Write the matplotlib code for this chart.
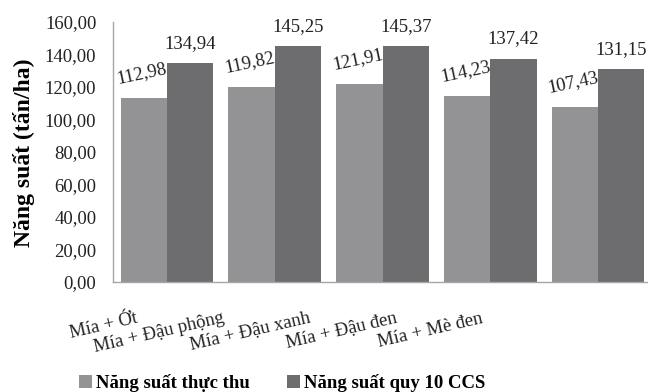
import matplotlib
matplotlib.use("Agg")
import matplotlib.pyplot as plt
import matplotlib.transforms as mtransforms
import numpy as np

# Data
categories = ["Mía + Ớt", "Mía + Đậu phộng", "Mía + Đậu xanh",
              "Mía + Đậu đen", "Mía + Mè đen"]
actualYield = [112.98, 119.82, 121.91, 114.23, 107.43]
ccsYield = [134.94, 145.25, 145.37, 137.42, 131.15]
seriesNames = ["Năng suất thực thu", "Năng suất quy 10 CCS"]
yTicks = [0, 20, 40, 60, 80, 100, 120, 140, 160]

LIGHT = "#939396"
DARK = "#6d6d6f"
AXIS = "#a6a6a6"
TEXT = "#222222"
FS = 13.5


def fmt(v):
    return f"{v:.2f}".replace(".", ",")


def main():
    plt.rcParams["font.family"] = ["Liberation Serif", "DejaVu Serif"]
    fig = plt.figure(figsize=(6.48, 3.92), dpi=100)
    W, H = 648.0, 392.0
    left, right, top, bottom = 113, 652, 22, 282
    ax = fig.add_axes([left / W, 1 - bottom / H,
                       (right - left) / W, (bottom - top) / H])

    x = np.arange(len(categories))
    width = 0.43
    b1 = ax.bar(x - width / 2, actualYield, width, color=LIGHT,
                label=seriesNames[0])
    b2 = ax.bar(x + width / 2, ccsYield, width, color=DARK,
                label=seriesNames[1])

    for rect, v in zip(b1, actualYield):
        ax.annotate(fmt(v), (rect.get_x() + rect.get_width() / 2, v),
                    xytext=(0, 12), textcoords="offset points",
                    ha="center", va="bottom", rotation=12,
                    rotation_mode="anchor", fontsize=FS, color=TEXT)
    for rect, v in zip(b2, ccsYield):
        ax.annotate(fmt(v), (rect.get_x() + rect.get_width() / 2, v),
                    xytext=(0, 8), textcoords="offset points",
                    ha="center", va="bottom", fontsize=FS,
                    color=TEXT, annotation_clip=False)

    ax.set_xlim(-0.5, len(categories) - 0.5)
    ax.set_ylim(0, 160)
    ax.set_yticks(yTicks)
    ax.set_yticklabels([fmt(t) for t in yTicks], fontsize=FS, color=TEXT)
    ax.tick_params(axis="y", length=0, pad=12)
    ax.tick_params(axis="x", length=0, pad=20)

    ax.set_xticks(x)
    ax.set_xticklabels(categories, rotation=13, ha="right",
                       rotation_mode="anchor", fontsize=FS, color=TEXT)
    # labels in the reference sit left of their category centres
    for i, lbl in enumerate(ax.get_xticklabels()):
        shift = -(31 + 21.5 * i) / 100.0
        lbl.set_transform(lbl.get_transform() + mtransforms.ScaledTranslation(
            shift, 0, fig.dpi_scale_trans))

    for side in ("top", "right"):
        ax.spines[side].set_visible(False)
    for side in ("left", "bottom"):
        ax.spines[side].set_color(AXIS)
        ax.spines[side].set_linewidth(1.0)

    fig.text(24 / W, 1 - 153 / H, "Năng suất (tấn/ha)", rotation=90,
             ha="center", va="center", fontsize=17, fontweight="bold")

    fig.legend(handles=[b1, b2], loc="center", ncol=2,
               bbox_to_anchor=(282 / W, 1 - 383 / H), frameon=False,
               prop={"size": 13.5, "weight": "bold"}, handlelength=0.7,
               handleheight=0.7, handletextpad=0.2, columnspacing=2.0)

    fig.savefig("out.png", dpi=100)


if __name__ == "__main__":
    main()
